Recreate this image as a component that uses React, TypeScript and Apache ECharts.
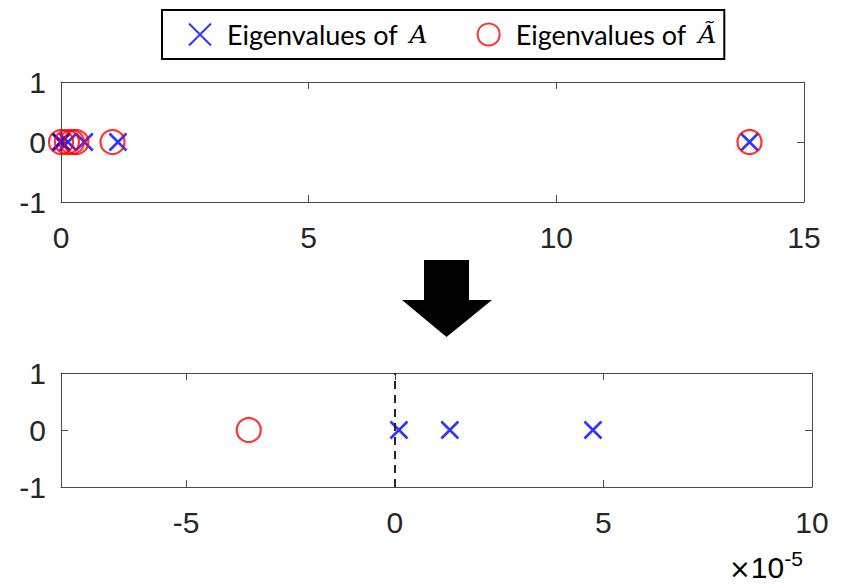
import React, { useEffect, useRef } from "react";
import * as echarts from "echarts";

// Eigenvalues
const eigA = [0.000001, 0.0000132, 0.0000475, 0.14, 0.47, 1.15, 13.9];
const eigAt = [-0.000035, 0.12, 0.22, 0.31, 1.04, 13.9];

const topXTicks = [0, 5, 10, 15];
const bottomXTicks = [-5e-5, 0, 5e-5, 1e-4];
const yTicks = [-1, 0, 1];

const nameA = "Eigenvalues of A";
const nameAt = "Eigenvalues of Ã";

const CROSS = "path://M0,0L20,20M20,0L0,20";
const BLUE = "#0000ff";
const RED = "#ff0000";
const INK = "#262626";
const AX = "#4a4a4a";
const FONT = "Liberation Sans";

export default function App() {
  const ref = useRef<HTMLDivElement>(null);
  useEffect(() => {
    if (!ref.current) return;
    const chart = echarts.init(ref.current, null, { renderer: "svg" });

    const baseX = (grid: number, pos: "bottom" | "top", min: number, max: number, ticks: number[], labels: boolean, fmt?: (v: number) => string) => ({
      type: "value",
      gridIndex: grid,
      position: pos,
      min,
      max,
      splitLine: { show: false },
      axisLine: { show: true, onZero: false, lineStyle: { color: AX, width: 1 } },
      axisTick: { show: true, inside: true, length: 7, customValues: ticks, lineStyle: { color: AX } },
      axisLabel: {
        show: labels,
        customValues: ticks,
        margin: 20,
        color: INK,
        fontSize: 30,
        fontFamily: FONT,
        formatter: fmt,
      },
    });
    const baseY = (grid: number, pos: "left" | "right", labels: boolean) => ({
      type: "value",
      gridIndex: grid,
      position: pos,
      min: -1,
      max: 1,
      splitLine: { show: false },
      axisLine: { show: true, onZero: false, lineStyle: { color: AX, width: 1 } },
      axisTick: { show: true, inside: true, length: 7, customValues: yTicks, lineStyle: { color: AX } },
      axisLabel: {
        show: labels,
        customValues: yTicks,
        margin: 15,
        color: INK,
        fontSize: 30,
        fontFamily: FONT,
      },
    });

    const fmtBottom = (v: number) => String(Math.round(v * 1e5));

    const crossStyle = { color: "transparent", borderColor: BLUE, borderWidth: 2.6 };
    const circleStyle = { color: "transparent", borderColor: RED, borderWidth: 2.2 };

    chart.setOption({
      animation: false,
      backgroundColor: "#ffffff",
      grid: [
        { left: 61, top: 82, width: 743, height: 120 },
        { left: 61, top: 373, width: 751, height: 114 },
      ],
      xAxis: [
        baseX(0, "bottom", 0, 15, topXTicks, true),
        baseX(0, "top", 0, 15, topXTicks, false),
        baseX(1, "bottom", -8e-5, 1e-4, bottomXTicks, true, fmtBottom),
        baseX(1, "top", -8e-5, 1e-4, bottomXTicks, false),
      ],
      yAxis: [baseY(0, "left", true), baseY(0, "right", false), baseY(1, "left", true), baseY(1, "right", false)],
      legend: {
        left: 162,
        top: 10,
        orient: "horizontal",
        data: [nameA, nameAt],
        borderColor: "#000",
        borderWidth: 2,
        borderRadius: 0,
        padding: [11, 8, 11, 26],
        itemWidth: 44,
        itemHeight: 22,
        itemGap: 49,
        backgroundColor: "#fff",
        textStyle: {
          fontFamily: "Lato",
          fontSize: 27,
          color: "#000",
          rich: {
            i: { fontFamily: "DejaVu Serif", fontStyle: "italic", fontSize: 25, color: "#000", padding: [0, 0, 0, 5] },
          },
        },
        formatter: (name: string) => name.replace(/ (A|Ã)$/, " {i|$1}"),
      },
      series: [
        {
          type: "scatter",
          name: nameA,
          xAxisIndex: 0,
          yAxisIndex: 0,
          symbol: CROSS,
          symbolKeepAspect: true,
          symbolSize: 17,
          clip: false,
          itemStyle: crossStyle,
          data: eigA.map((v) => [v, 0]),
        },
        {
          type: "scatter",
          name: nameAt,
          xAxisIndex: 0,
          yAxisIndex: 0,
          symbol: "circle",
          symbolSize: 24,
          clip: false,
          itemStyle: circleStyle,
          data: eigAt.map((v) => [v, 0]),
        },
        {
          type: "scatter",
          name: nameA,
          xAxisIndex: 2,
          yAxisIndex: 2,
          symbol: CROSS,
          symbolKeepAspect: true,
          symbolSize: 17,
          clip: true,
          itemStyle: crossStyle,
          data: eigA.map((v) => [v, 0]),
          markLine: {
            silent: true,
            symbol: ["none", "none"],
            label: { show: false },
            lineStyle: { color: INK, width: 2, type: [8, 6] },
            data: [{ xAxis: 0 }],
          },
        },
        {
          type: "scatter",
          name: nameAt,
          xAxisIndex: 2,
          yAxisIndex: 2,
          symbol: "circle",
          symbolSize: 24,
          clip: true,
          itemStyle: circleStyle,
          data: eigAt.map((v) => [v, 0]),
        },
      ],
      graphic: [
        {
          type: "polygon",
          shape: {
            points: [
              [424, 260],
              [469, 260],
              [469, 300],
              [492, 300],
              [446.5, 337],
              [402, 300],
              [424, 300],
            ],
          },
          style: { fill: "#000" },
        },
        {
          type: "text",
          left: 729,
          top: 548,
          style: {
            text: "{x|×}{n|10}{s|-5}",
            rich: {
              x: { fontFamily: "DejaVu Sans", fontSize: 26, color: INK, verticalAlign: "bottom", lineHeight: 34 },
              n: { fontFamily: FONT, fontSize: 30, color: INK, verticalAlign: "bottom", lineHeight: 34 },
              s: { fontFamily: FONT, fontSize: 21, color: INK, verticalAlign: "top", lineHeight: 34 },
            },
          },
        },
      ],
    });
    return () => chart.dispose();
  }, []);
  return <div ref={ref} style={{ position: "fixed", left: 0, top: 0, width: 844, height: 588 }} />;
}
